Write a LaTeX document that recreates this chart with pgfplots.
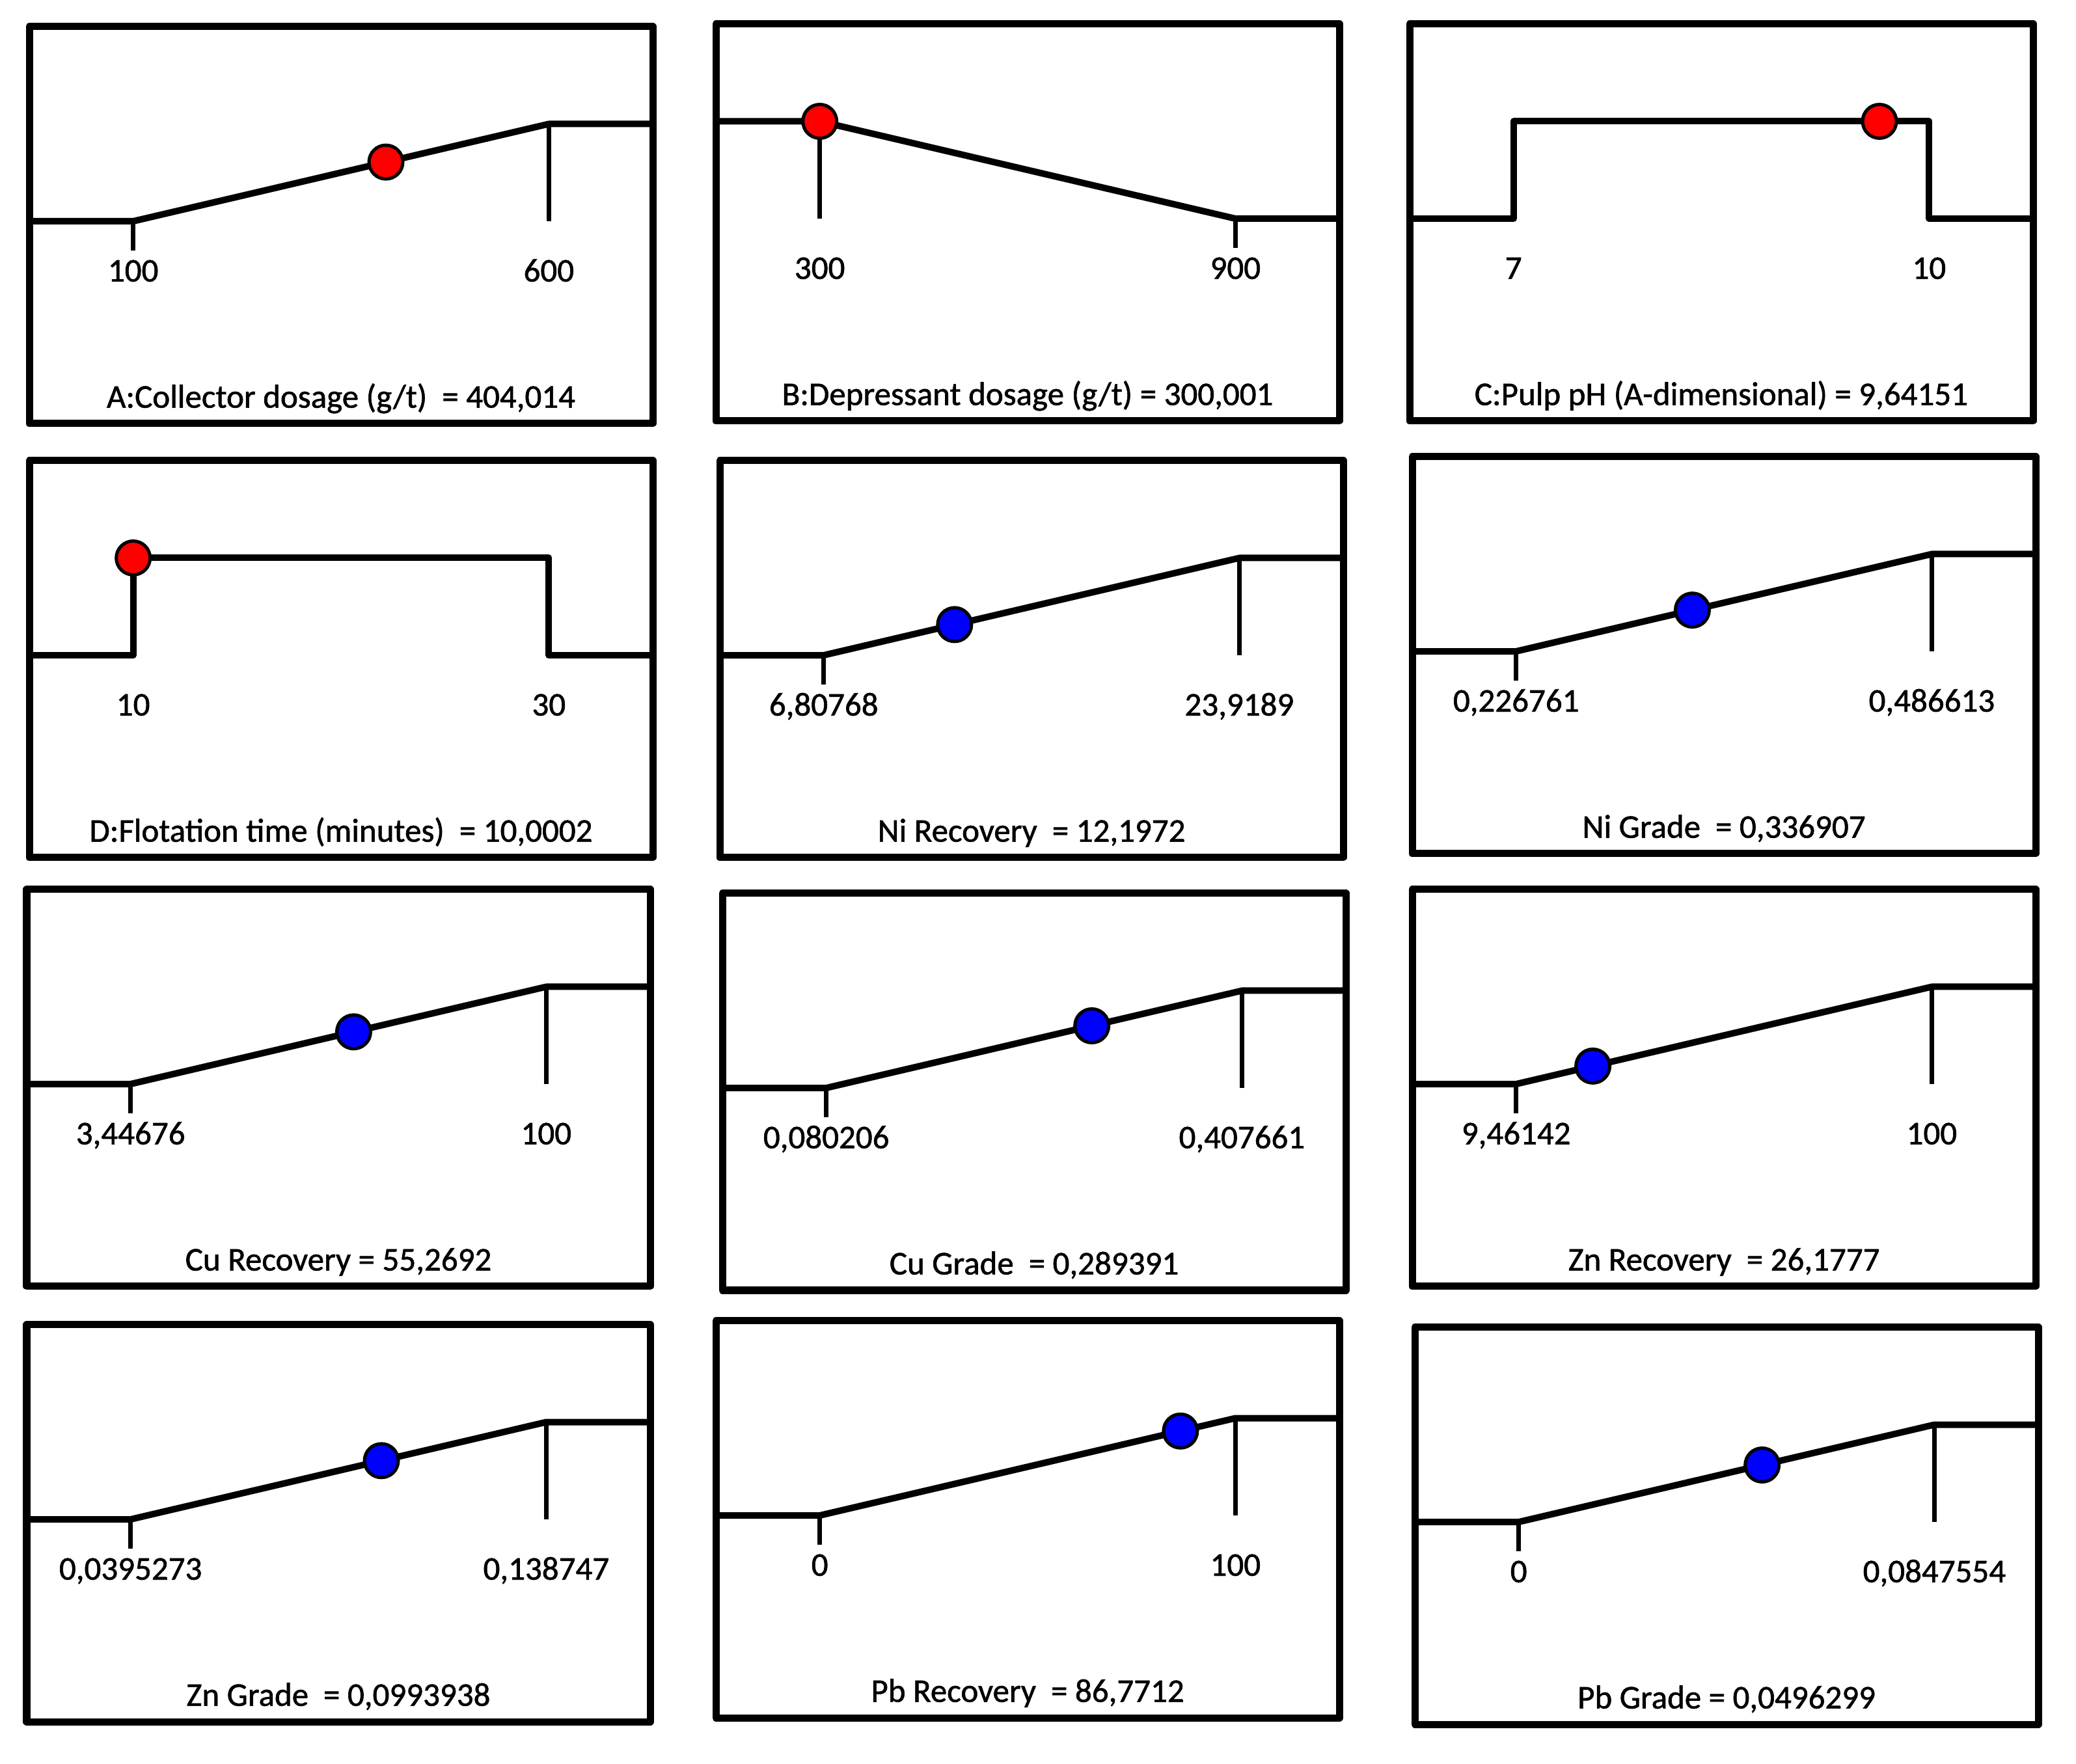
\documentclass[border=0pt]{standalone}
\usepackage{pgfplots}
\pgfplotsset{compat=1.18}
\usepackage{fontspec}
\setmainfont{Carlito}[FakeBold=1.2]
\definecolor{dred}{RGB}{255,0,0}
\definecolor{dblue}{RGB}{0,0,255}
\pgfplotsset{
  panel/.style={width=9.58cm,height=6.1cm,scale only axis,ymin=-2.08,ymax=2.0,
    xtick=\empty,ytick=\empty,axis line style={line width=1.1mm,line join=round},clip=false},
  curve/.style={black,line width=1.0mm,no markers,line join=round},
  tck/.style={black,line width=0.7mm,no markers},
  dotr/.style={only marks,mark=*,mark size=0.26cm,mark options={fill=dred,draw=black,line width=0.5mm}},
  dotb/.style={only marks,mark=*,mark size=0.26cm,mark options={fill=dblue,draw=black,line width=0.5mm}},
}
\tikzset{lab/.style={anchor=base,font=\fontsize{14.5}{17}\selectfont,inner sep=0pt},
         ttl/.style={anchor=base,font=\fontsize{14.5}{17}\selectfont,inner sep=0pt}}
\begin{document}
\begin{tikzpicture}
\path (0,0) rectangle (31.9,27.1);
% Row 1
\begin{axis}[panel,at={(0.45cm,20.59cm)},xmin=-25,xmax=725]
\addplot[tck] coordinates {(100,0)(100,-0.3)};
\addplot[tck] coordinates {(600,1)(600,0)};
\addplot[curve] coordinates {(-25,0)(100,0)(600,1)(725,1)};
\addplot[dotr] coordinates {(404.014,0.608)};
\node[lab] at (axis cs:100,-0.62) {100};
\node[lab] at (axis cs:600,-0.62) {600};
\node[ttl] at (rel axis cs:0.5,0.04) {A:Collector dosage (g/t)\ \ = 404,014};
\end{axis}
\begin{axis}[panel,at={(11.00cm,20.63cm)},xmin=150,xmax=1050]
\addplot[tck] coordinates {(300,1)(300,0)};
\addplot[tck] coordinates {(900,0)(900,-0.3)};
\addplot[curve] coordinates {(150,1)(300,1)(900,0)(1050,0)};
\addplot[dotr] coordinates {(300.001,1)};
\node[lab] at (axis cs:300,-0.62) {300};
\node[lab] at (axis cs:900,-0.62) {900};
\node[ttl] at (rel axis cs:0.5,0.04) {B:Depressant dosage (g/t) = 300,001};
\end{axis}
\begin{axis}[panel,at={(21.66cm,20.63cm)},xmin=6.25,xmax=10.75]
\addplot[curve] coordinates {(6.25,0)(7,0)(7,1)(10,1)(10,0)(10.75,0)};
\addplot[dotr] coordinates {(9.64151,1)};
\node[lab] at (axis cs:7,-0.62) {7};
\node[lab] at (axis cs:10,-0.62) {10};
\node[ttl] at (rel axis cs:0.5,0.04) {C:Pulp pH (A-dimensional) = 9,64151};
\end{axis}
% Row 2
\begin{axis}[panel,at={(0.45cm,13.92cm)},xmin=5,xmax=35]
\addplot[curve] coordinates {(5,0)(10,0)(10,1)(30,1)(30,0)(35,0)};
\addplot[dotr] coordinates {(10.0002,1)};
\node[lab] at (axis cs:10,-0.62) {10};
\node[lab] at (axis cs:30,-0.62) {30};
\node[ttl] at (rel axis cs:0.5,0.04) {D:Flotation time (minutes)\ \ = 10,0002};
\end{axis}
\begin{axis}[panel,at={(11.06cm,13.92cm)},xmin=2.529875,xmax=28.196705]
\addplot[tck] coordinates {(6.80768,0)(6.80768,-0.3)};
\addplot[tck] coordinates {(23.9189,1)(23.9189,0)};
\addplot[curve] coordinates {(2.529875,0)(6.80768,0)(23.9189,1)(28.196705,1)};
\addplot[dotb] coordinates {(12.1972,0.31497)};
\node[lab] at (axis cs:6.80768,-0.62) {6,80768};
\node[lab] at (axis cs:23.9189,-0.62) {23,9189};
\node[ttl] at (rel axis cs:0.5,0.04) {Ni Recovery\ \ = 12,1972};
\end{axis}
\begin{axis}[panel,at={(21.70cm,13.98cm)},xmin=0.161798,xmax=0.551576]
\addplot[tck] coordinates {(0.226761,0)(0.226761,-0.3)};
\addplot[tck] coordinates {(0.486613,1)(0.486613,0)};
\addplot[curve] coordinates {(0.161798,0)(0.226761,0)(0.486613,1)(0.551576,1)};
\addplot[dotb] coordinates {(0.336907,0.42388)};
\node[lab] at (axis cs:0.226761,-0.62) {0,226761};
\node[lab] at (axis cs:0.486613,-0.62) {0,486613};
\node[ttl] at (rel axis cs:0.5,0.04) {Ni Grade\ \ = 0,336907};
\end{axis}
% Row 3
\begin{axis}[panel,at={(0.41cm,7.33cm)},xmin=-20.69155,xmax=124.13831]
\addplot[tck] coordinates {(3.44676,0)(3.44676,-0.3)};
\addplot[tck] coordinates {(100,1)(100,0)};
\addplot[curve] coordinates {(-20.69155,0)(3.44676,0)(100,1)(124.13831,1)};
\addplot[dotb] coordinates {(55.2692,0.53672)};
\node[lab] at (axis cs:3.44676,-0.62) {3,44676};
\node[lab] at (axis cs:100,-0.62) {100};
\node[ttl] at (rel axis cs:0.5,0.04) {Cu Recovery = 55,2692};
\end{axis}
\begin{axis}[panel,at={(11.10cm,7.27cm)},xmin=-0.00165775,xmax=0.48952475]
\addplot[tck] coordinates {(0.080206,0)(0.080206,-0.3)};
\addplot[tck] coordinates {(0.407661,1)(0.407661,0)};
\addplot[curve] coordinates {(-0.00165775,0)(0.080206,0)(0.407661,1)(0.48952475,1)};
\addplot[dotb] coordinates {(0.289391,0.63882)};
\node[lab] at (axis cs:0.080206,-0.62) {0,080206};
\node[lab] at (axis cs:0.407661,-0.62) {0,407661};
\node[ttl] at (rel axis cs:0.5,0.04) {Cu Grade\ \ = 0,289391};
\end{axis}
\begin{axis}[panel,at={(21.70cm,7.33cm)},xmin=-13.173225,xmax=122.634645]
\addplot[tck] coordinates {(9.46142,0)(9.46142,-0.3)};
\addplot[tck] coordinates {(100,1)(100,0)};
\addplot[curve] coordinates {(-13.173225,0)(9.46142,0)(100,1)(122.634645,1)};
\addplot[dotb] coordinates {(26.1777,0.18463)};
\node[lab] at (axis cs:9.46142,-0.62) {9,46142};
\node[lab] at (axis cs:100,-0.62) {100};
\node[ttl] at (rel axis cs:0.5,0.04) {Zn Recovery\ \ = 26,1777};
\end{axis}
% Row 4
\begin{axis}[panel,at={(0.41cm,0.64cm)},xmin=0.014722375,xmax=0.163551925]
\addplot[tck] coordinates {(0.0395273,0)(0.0395273,-0.3)};
\addplot[tck] coordinates {(0.138747,1)(0.138747,0)};
\addplot[curve] coordinates {(0.014722375,0)(0.0395273,0)(0.138747,1)(0.163551925,1)};
\addplot[dotb] coordinates {(0.0993938,0.60337)};
\node[lab] at (axis cs:0.0395273,-0.62) {0,0395273};
\node[lab] at (axis cs:0.138747,-0.62) {0,138747};
\node[ttl] at (rel axis cs:0.5,0.04) {Zn Grade\ \ = 0,0993938};
\end{axis}
\begin{axis}[panel,at={(11.00cm,0.70cm)},xmin=-25,xmax=125]
\addplot[tck] coordinates {(0,0)(0,-0.3)};
\addplot[tck] coordinates {(100,1)(100,0)};
\addplot[curve] coordinates {(-25,0)(0,0)(100,1)(125,1)};
\addplot[dotb] coordinates {(86.7712,0.867712)};
\node[lab] at (axis cs:0,-0.62) {0};
\node[lab] at (axis cs:100,-0.62) {100};
\node[ttl] at (rel axis cs:0.5,0.04) {Pb Recovery\ \ = 86,7712};
\end{axis}
\begin{axis}[panel,at={(21.74cm,0.60cm)},xmin=-0.02118885,xmax=0.10594425]
\addplot[tck] coordinates {(0,0)(0,-0.3)};
\addplot[tck] coordinates {(0.0847554,1)(0.0847554,0)};
\addplot[curve] coordinates {(-0.02118885,0)(0,0)(0.0847554,1)(0.10594425,1)};
\addplot[dotb] coordinates {(0.0496299,0.58556)};
\node[lab] at (axis cs:0,-0.62) {0};
\node[lab] at (axis cs:0.0847554,-0.62) {0,0847554};
\node[ttl] at (rel axis cs:0.5,0.04) {Pb Grade = 0,0496299};
\end{axis}
\end{tikzpicture}
\end{document}
